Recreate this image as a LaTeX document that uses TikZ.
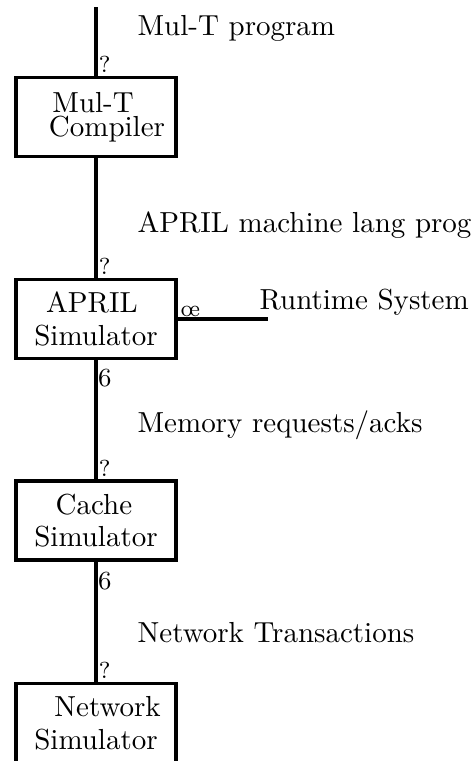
\documentclass[tikz,border=0pt]{standalone}
\usepackage{tikz}
\usetikzlibrary{positioning}

\tikzset{
  simbox/.style={draw, line width=1.15pt, minimum width=55.2pt, minimum height=27.3pt, align=center, inner sep=0pt},
  flowlabel/.style={anchor=base west, inner sep=0pt},
  glyph/.style={inner sep=0pt, font=\footnotesize},
}

\begin{document}
\begin{tikzpicture}[x=0.345pt, y=-0.345pt, line width=1.15pt]

  \useasboundingbox (0,0) rectangle (473,761);
  \clip (0,0) rectangle (473,761);

  \coordinate (src) at (96,7);
  \coordinate (rts) at (268,319);

  \node[simbox] (compiler) at (96,117) {\kern-1pt Mul-T\kern1pt\\[-3.6pt]\kern3.8pt Compiler\kern-3.8pt};
  \node[simbox] (april) at (96,319) {\kern-1.4pt APRIL\kern1.4pt\\[-0.7pt]Simulator};
  \node[simbox] (cache) at (96,520.5) {\kern-0.7pt Cache\kern0.7pt\\[-0.7pt]Simulator};
  \node[simbox] (network) at (96,723) {\kern4pt Network\kern-4pt\\[-0.7pt]Simulator};

  \draw (src) -- (compiler);
  \draw (compiler) -- (april);
  \draw (april) -- (cache);
  \draw (cache) -- (network);
  \draw (april) -- (rts);

  \node[flowlabel] (progin) at (136,35) {Mul-T program};
  \node[flowlabel] (machprog) at (136,232) {APRIL machine lang prog};
  \node[flowlabel] (memreq) at (136,432) {Memory requests/acks};
  \node[flowlabel] (nettrans) at (136,642) {Network Transactions};
  \node[flowlabel] (runtime) at (258,309) {Runtime System};

  \node[glyph, anchor=south west, xshift=0.4pt, yshift=0.5pt] (dn1) at (compiler.north) {?};
  \node[glyph, anchor=south west, xshift=0.4pt, yshift=0.5pt] (dn2) at (april.north) {?};
  \node[glyph, anchor=south west, xshift=0.4pt, yshift=0.5pt] (dn3) at (cache.north) {?};
  \node[glyph, anchor=south west, xshift=0.4pt, yshift=0.5pt] (dn4) at (network.north) {?};
  \node[glyph, font=\small, anchor=north west, xshift=0.2pt, yshift=-2.5pt] (up1) at (april.south) {6};
  \node[glyph, font=\small, anchor=north west, xshift=0.2pt, yshift=-3pt] (up2) at (cache.south) {6};
  \node[glyph, anchor=south west, xshift=0.5pt, yshift=0.3pt] (lt1) at (april.east) {\oe};

\end{tikzpicture}
\end{document}
